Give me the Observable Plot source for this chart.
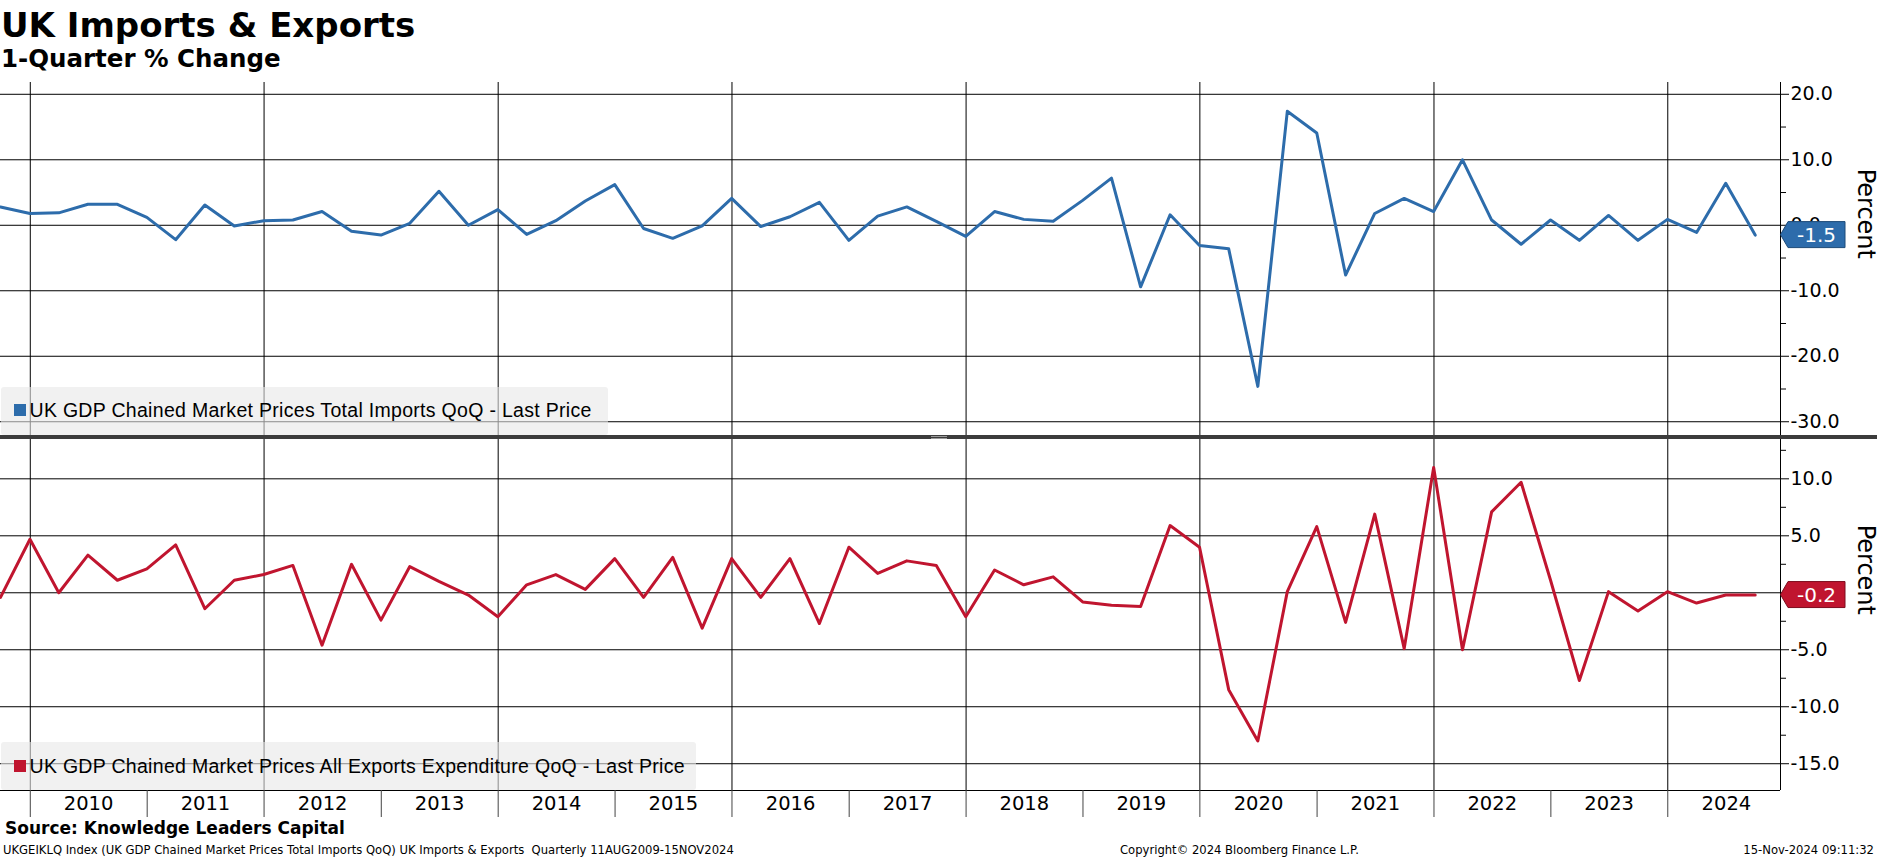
<!DOCTYPE html>
<html>
<head>
<meta charset="utf-8">
<script src="https://cdn.jsdelivr.net/npm/d3@7"></script>
<script src="https://cdn.jsdelivr.net/npm/@observablehq/plot@0.6"></script>
<style>
  html, body { margin: 0; padding: 0; background: #fff; }
  body { width: 1877px; height: 859px; position: relative; overflow: hidden; font-family: "DejaVu Sans", sans-serif; color: #000; }
  .abs { position: absolute; white-space: nowrap; }
  #title { left: 1px; top: 8px; font: bold 34px/34px "DejaVu Sans", sans-serif; }
  #subtitle { left: 1px; top: 47px; font: bold 24.5px/24.5px "DejaVu Sans", sans-serif; }
  #source { left: 5px; top: 820px; font: bold 17px/17px "DejaVu Sans", sans-serif; }
  .foot { top: 845px; font: 11.6px/11.6px "DejaVu Sans", sans-serif; }
  .sep { left: 0; top: 435px; width: 1877px; height: 4px; background: #3c3c3c; }
  .grip { left: 931px; top: 435.5px; width: 16px; height: 3px; border-top: 1px solid #9a9a9a; border-bottom: 1px solid #9a9a9a; box-sizing: border-box; }
  .legend { background: rgba(232,232,232,0.6); border-radius: 3px; }
  .legend .sq { position: absolute; width: 12px; height: 12px; }
  .legend .lt { position: absolute; font: 19.5px/19.5px "Liberation Sans", sans-serif; letter-spacing: 0.3px; white-space: nowrap; }
</style>
</head>
<body>
<div id="title" class="abs">UK Imports &amp; Exports</div>
<div id="subtitle" class="abs">1-Quarter % Change</div>
<div id="topChart" class="abs" style="left:0;top:82px;"></div>
<div id="bottomChart" class="abs" style="left:0;top:439px;"></div>
<div class="abs sep"></div>
<div class="abs grip"></div>
<div id="legendTop" class="abs legend" style="left:1px;top:387px;width:607px;height:48px;">
  <div class="sq" id="sqTop" style="left:12.5px;top:17px;"></div>
  <div class="lt" id="ltTop" style="left:28.5px;top:14px;"></div>
</div>
<div id="legendBottom" class="abs legend" style="left:1px;top:742px;width:695px;height:48px;">
  <div class="sq" id="sqBottom" style="left:12.5px;top:18px;"></div>
  <div class="lt" id="ltBottom" style="left:28.5px;top:15px;"></div>
</div>
<div id="source" class="abs">Source: Knowledge Leaders Capital</div>
<div class="abs foot" style="left:3px;">UKGEIKLQ Index (UK GDP Chained Market Prices Total Imports QoQ) UK Imports &amp; Exports&nbsp; Quarterly 11AUG2009-15NOV2024</div>
<div class="abs foot" style="left:1120px;">Copyright© 2024 Bloomberg Finance L.P.</div>
<div class="abs foot" style="right:3px;">15-Nov-2024 09:11:32</div>

<script>
// ---------------- data ----------------
const quarters = [
  "2009Q3","2009Q4",
  "2010Q1","2010Q2","2010Q3","2010Q4",
  "2011Q1","2011Q2","2011Q3","2011Q4",
  "2012Q1","2012Q2","2012Q3","2012Q4",
  "2013Q1","2013Q2","2013Q3","2013Q4",
  "2014Q1","2014Q2","2014Q3","2014Q4",
  "2015Q1","2015Q2","2015Q3","2015Q4",
  "2016Q1","2016Q2","2016Q3","2016Q4",
  "2017Q1","2017Q2","2017Q3","2017Q4",
  "2018Q1","2018Q2","2018Q3","2018Q4",
  "2019Q1","2019Q2","2019Q3","2019Q4",
  "2020Q1","2020Q2","2020Q3","2020Q4",
  "2021Q1","2021Q2","2021Q3","2021Q4",
  "2022Q1","2022Q2","2022Q3","2022Q4",
  "2023Q1","2023Q2","2023Q3","2023Q4",
  "2024Q1","2024Q2","2024Q3"
];

// UK GDP Chained Market Prices Total Imports QoQ (%)
const imports = [
  2.8, 1.8,
  1.9, 3.2, 3.2, 1.2,
  -2.2, 3.1, -0.1, 0.7,
  0.8, 2.1, -0.9, -1.5,
  0.3, 5.2, 0.0, 2.4,
  -1.4, 0.7, 3.7, 6.2,
  -0.5, -2.0, -0.1, 4.1,
  -0.2, 1.3, 3.5, -2.3,
  1.4, 2.8, 0.6, -1.7,
  2.1, 0.9, 0.6, 3.8,
  7.2, -9.4, 1.6, -3.1,
  -3.6, -24.6, 17.4, 14.1,
  -7.6, 1.8, 4.1, 2.1,
  10.0, 0.8, -2.9, 0.8,
  -2.3, 1.5, -2.3, 0.9,
  -1.1, 6.4, -1.5
];

// UK GDP Chained Market Prices All Exports Expenditure QoQ (%)
const exports = [
  -0.4, 4.7,
  0.0, 3.3, 1.1, 2.1,
  4.2, -1.4, 1.1, 1.6,
  2.4, -4.6, 2.5, -2.4,
  2.3, 1.0, -0.2, -2.1,
  0.7, 1.6, 0.3, 3.0,
  -0.4, 3.1, -3.1, 3.0,
  -0.4, 3.0, -2.7, 4.0,
  1.7, 2.8, 2.4, -2.1,
  2.0, 0.7, 1.4, -0.8,
  -1.1, -1.2, 5.9, 4.0,
  -8.5, -13.0, 0.1, 5.8,
  -2.6, 6.9, -4.9, 11.0,
  -5.0, 7.1, 9.7, 1.1,
  -7.7, 0.1, -1.6, 0.1,
  -0.9, -0.2, -0.2
];

const years = [2010, 2011, 2012, 2013, 2014, 2015, 2016, 2017, 2018, 2019, 2020, 2021, 2022, 2023, 2024];
const gridYears = [2010, 2012, 2014, 2016, 2018, 2020, 2022, 2024];

const importTicks = [20, 10, 0, -10, -20, -30];
const importMinorTicks = [15, 5, -5, -15, -25];
const importDomain = [-32.1, 21.8];

const exportTicks = [10, 5, 0, -5, -10, -15];
const exportMinorTicks = [12.5, 7.5, 2.5, -2.5, -7.5, -12.5];
const exportDomain = [-17.35, 13.45];

const xStart = "2009-09-30";
const xEnd = "2024-12-18";

const importName = "UK GDP Chained Market Prices Total Imports QoQ - Last Price";
const exportName = "UK GDP Chained Market Prices All Exports Expenditure QoQ - Last Price";

const blue = "#2d6cab";
const red = "#c0152f";

// ---------------- helpers ----------------
function parseQuarter(q) {
  const y = +q.slice(0, 4), n = +q.slice(5);
  return new Date(Date.UTC(y, 3 * n, 0));
}
const xDomain = [new Date(xStart + "T00:00Z"), new Date(xEnd + "T00:00Z")];
const importData = quarters.map((q, i) => ({date: parseQuarter(q), value: imports[i]}));
const exportData = quarters.map((q, i) => ({date: parseQuarter(q), value: exports[i]}));
const yearStarts = years.map(y => new Date(Date.UTC(y, 0, 1)));
const yearMids = years.map(y => new Date(Date.UTC(y, 6, 2)));
const gridDates = gridYears.map(y => new Date(Date.UTC(y, 0, 1)));

function valueTag(value, fill, stroke) {
  return (index, scales, values, dimensions) => {
    const yy = scales.y(value);
    const x0 = dimensions.width - dimensions.marginRight;
    const tip = 8, w = 57, h = 26;
    const g = d3.create("svg:g");
    g.append("path")
      .attr("d", `M${x0 + 0.5},${yy} L${x0 + tip},${yy - h / 2} H${x0 + tip + w} V${yy + h / 2} H${x0 + tip} Z`)
      .attr("fill", fill).attr("stroke", stroke).attr("stroke-width", 1);
    g.append("text")
      .attr("x", x0 + tip + w / 2).attr("y", yy)
      .attr("dy", "0.36em").attr("text-anchor", "middle")
      .attr("fill", "#fff").attr("font-size", 20).attr("font-family", "DejaVu Sans")
      .text(value.toFixed(1));
    return g.node();
  };
}

const W = 1877, MR = 97;
const tickFmt = d => d.toFixed(1);
const baseStyle = {background: "transparent", fontFamily: "DejaVu Sans", fontSize: "19px", color: "#000", overflow: "visible"};

const topPlot = Plot.plot({
  width: W, height: 353,
  marginTop: 0, marginBottom: 0, marginLeft: 0, marginRight: MR,
  style: baseStyle,
  x: {type: "utc", domain: xDomain, axis: null},
  y: {domain: importDomain},
  marks: [
    Plot.gridY(importTicks, {stroke: "#000", strokeOpacity: 1, strokeWidth: 1}),
    Plot.gridX(gridDates, {stroke: "#000", strokeOpacity: 1, strokeWidth: 1}),
    Plot.ruleX([xDomain[1]], {stroke: "#000"}),
    Plot.axisY(importMinorTicks, {anchor: "right", tickSize: 5, tickFormat: () => "", label: null}),
    Plot.axisY(importTicks, {anchor: "right", tickSize: 8, tickPadding: 2, tickFormat: tickFmt, label: null, fontSize: 19}),
    Plot.lineY(importData, {x: "date", y: "value", stroke: blue, strokeWidth: 3}),
    Plot.text(["Percent"], {text: d => d, frameAnchor: "right", rotate: 90, dx: 85, fontSize: 24}),
    valueTag(imports[imports.length - 1], blue, "#1d4a78")
  ]
});
document.getElementById("topChart").appendChild(topPlot);

const bottomPlot = Plot.plot({
  width: W, height: 351 + 32,
  marginTop: 0, marginBottom: 32, marginLeft: 0, marginRight: MR,
  style: baseStyle,
  x: {type: "utc", domain: xDomain},
  y: {domain: exportDomain},
  marks: [
    Plot.gridY(exportTicks, {stroke: "#000", strokeOpacity: 1, strokeWidth: 1}),
    Plot.gridX(gridDates, {stroke: "#000", strokeOpacity: 1, strokeWidth: 1}),
    Plot.ruleX([xDomain[1]], {stroke: "#000"}),
    Plot.ruleY([exportDomain[0]], {stroke: "#000"}),
    Plot.axisY(exportMinorTicks, {anchor: "right", tickSize: 5, tickFormat: () => "", label: null}),
    // the 0.0 label sits fully under the last-value tag in the reference
    Plot.axisY(exportTicks, {anchor: "right", tickSize: 8, tickPadding: 2, tickFormat: d => (d === 0 ? "" : tickFmt(d)), label: null, fontSize: 19}),
    Plot.axisX(yearStarts, {anchor: "bottom", tickSize: 27, tickFormat: () => "", label: null, stroke: "#444"}),
    Plot.axisX(yearMids, {anchor: "bottom", tickSize: 0, tickPadding: 6, tickFormat: d => String(d.getUTCFullYear()), label: null, fontSize: 19.5}),
    Plot.lineY(exportData, {x: "date", y: "value", stroke: red, strokeWidth: 3}),
    Plot.text(["Percent"], {text: d => d, frameAnchor: "right", rotate: 90, dx: 85, fontSize: 24}),
    valueTag(exports[exports.length - 1], red, "#7d0d1e")
  ]
});
document.getElementById("bottomChart").appendChild(bottomPlot);

// legends
document.getElementById("sqTop").style.background = blue;
document.getElementById("sqBottom").style.background = red;
document.getElementById("ltTop").textContent = importName;
document.getElementById("ltBottom").textContent = exportName;
</script>
</body>
</html>
